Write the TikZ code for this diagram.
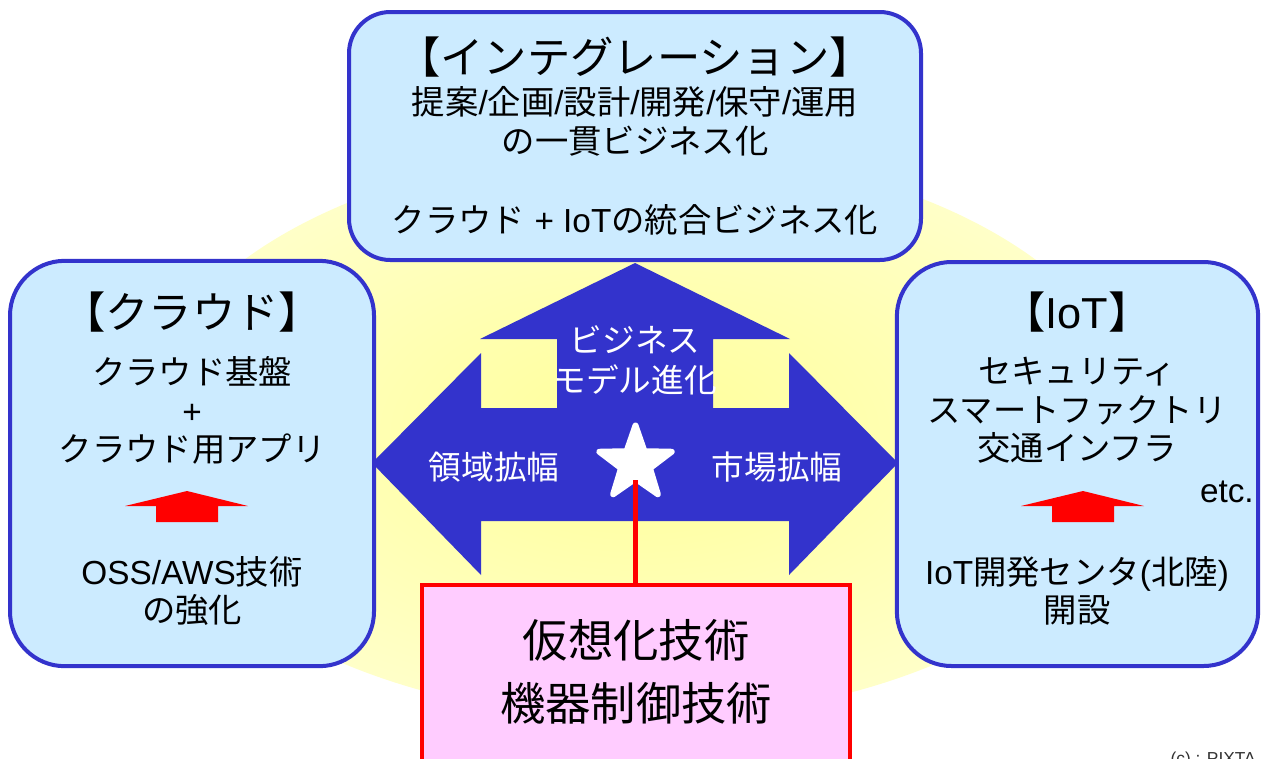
\documentclass[tikz,border=0pt]{standalone}
\usepackage{fontspec}
\setmainfont{Noto Sans CJK JP}
\newfontfamily\lat{Liberation Sans}
\usetikzlibrary{shapes.geometric}
\definecolor{boxblue}{HTML}{CCEBFF}
\definecolor{edgeblue}{HTML}{3333CC}
\definecolor{pinkfill}{HTML}{FFCCFF}
\definecolor{ylwin}{HTML}{FFFF99}
\definecolor{ylwout}{HTML}{FFFFC8}
\newcommand{\ftitle}{\fontsize{32.5pt}{38pt}\selectfont}
\newcommand{\fbody}{\fontsize{25pt}{29pt}\selectfont}
\newcommand{\fbig}{\fontsize{34pt}{47pt}\selectfont}
\newcommand{\farrow}{\fontsize{24.5pt}{30pt}\selectfont}
\begin{document}
\begin{tikzpicture}[x=0.75pt,y=-0.75pt,
  roundbox/.style={draw=edgeblue, fill=boxblue, line width=3pt, inner sep=0pt},
  pinkbox/.style={draw=red, fill=pinkfill, line width=3pt, inner sep=0pt},
  txt/.style={inner sep=0pt, align=center, text=black},
  wtxt/.style={inner sep=0pt, align=center, text=white, font=\farrow},
  redarrow/.style={fill=red},
  bluearrow/.style={fill=edgeblue}]
\useasboundingbox (0,0) rectangle (1263,758);
\clip (0,0) rectangle (1263,758);
\fill[white] (0,0) rectangle (1263,758);
% yellow background ellipse
\shade[inner color=ylwin, outer color=ylwout] (640,434) ellipse [x radius=500, y radius=285];

% boxes
\node[roundbox, minimum width=429pt, minimum height=186pt, rounded corners=31pt] (integ) at (635,136) {};
\node[roundbox, minimum width=273pt, minimum height=304pt, rounded corners=41pt] (cloud) at (192,463.5) {};
\node[roundbox, minimum width=271pt, minimum height=303pt, rounded corners=41pt] (iot) at (1077.5,464) {};

% central blue arrow shape
\fill[bluearrow] (635,263) -- (790,339) -- (713,339) -- (713,408) -- (789,408) -- (789,353)
  -- (898,463) -- (789,575) -- (789,521) -- (481,521) -- (481,575) -- (372,463)
  -- (481,353) -- (481,408) -- (557,408) -- (557,339) -- (480,339) -- cycle;

% pink box
\node[pinkbox, minimum width=321pt, minimum height=161pt] (tech) at (636,692.5) {};

% integration texts
\node[txt, font=\ftitle] (integtitle) at (635,57) {【インテグレーション】};
\node[txt, font=\fbody] (integbody) at (635,121.5) {\fontsize{25pt}{27.75pt}\selectfont 提案{\lat /}企画{\lat /}設計{\lat /}開発{\lat /}保守{\lat /}運用\\の一貫ビジネス化};
\node[txt, font=\fbody] (integbody2) at (635,220) {クラウド{\lat\ + IoT}の統合ビジネス化};

% cloud texts
\node[txt, font=\ftitle] (cloudtitle) at (192,312) {【クラウド】};
\node[txt, font=\fbody] (cloudbody) at (192,410.5) {クラウド基盤\\{\lat +}\\クラウド用アプリ};
\node[txt, font=\fbody] (cloudbase) at (192,591) {\fontsize{25pt}{27pt}\selectfont{\lat OSS/AWS}技術\\の強化};

% IoT texts
\node[txt, font=\ftitle] (iottitle) at (1077,312) {【{\lat IoT}】};
\node[txt, font=\fbody] (iotbody) at (1077,410.5) {セキュリティ\\スマートファクトリ\\交通インフラ};
\node[txt, font=\fbody\lat, anchor=east] (etc) at (1254,492) {etc.};
\node[txt, font=\fbody] (iotbase) at (1077,591) {\fontsize{25pt}{27pt}\selectfont{\lat IoT}開発センタ{\lat (}北陸{\lat )}\\開設};

% small red arrows
\fill[redarrow] (187,491) -- (248,506) -- (218,506) -- (218,522) -- (156,522) -- (156,506) -- (125,506) -- cycle;
\fill[redarrow] (1083,491) -- (1144,506) -- (1114,506) -- (1114,522) -- (1052,522) -- (1052,506) -- (1021,506) -- cycle;

% arrow texts
\node[wtxt] (bizmodel) at (635,360) {ビジネス\\モデル進化};
\node[wtxt] (domain) at (494,467) {領域拡幅};
\node[wtxt] (market) at (777,467) {市場拡幅};

% star and red line
\node[star, star points=5, star point ratio=2.5, fill=white, draw=white, line width=4.5pt, line join=round, minimum size=57pt, inner sep=0pt] (star) at (635.5,463.5) {};
\draw[red, line width=4pt] ([yshift=-12.5pt]star.center) -- (star.center |- tech.north);

% pink box text
\node[txt, font=\fbig] (techtext) at (636,671.5) {仮想化技術\\機器制御技術};

% credit
\node[txt, font=\lat\fontsize{13pt}{15pt}\selectfont, anchor=base east, text=black!80] (credit) at (1256,764) {(c) : PIXTA};
\end{tikzpicture}
\end{document}
